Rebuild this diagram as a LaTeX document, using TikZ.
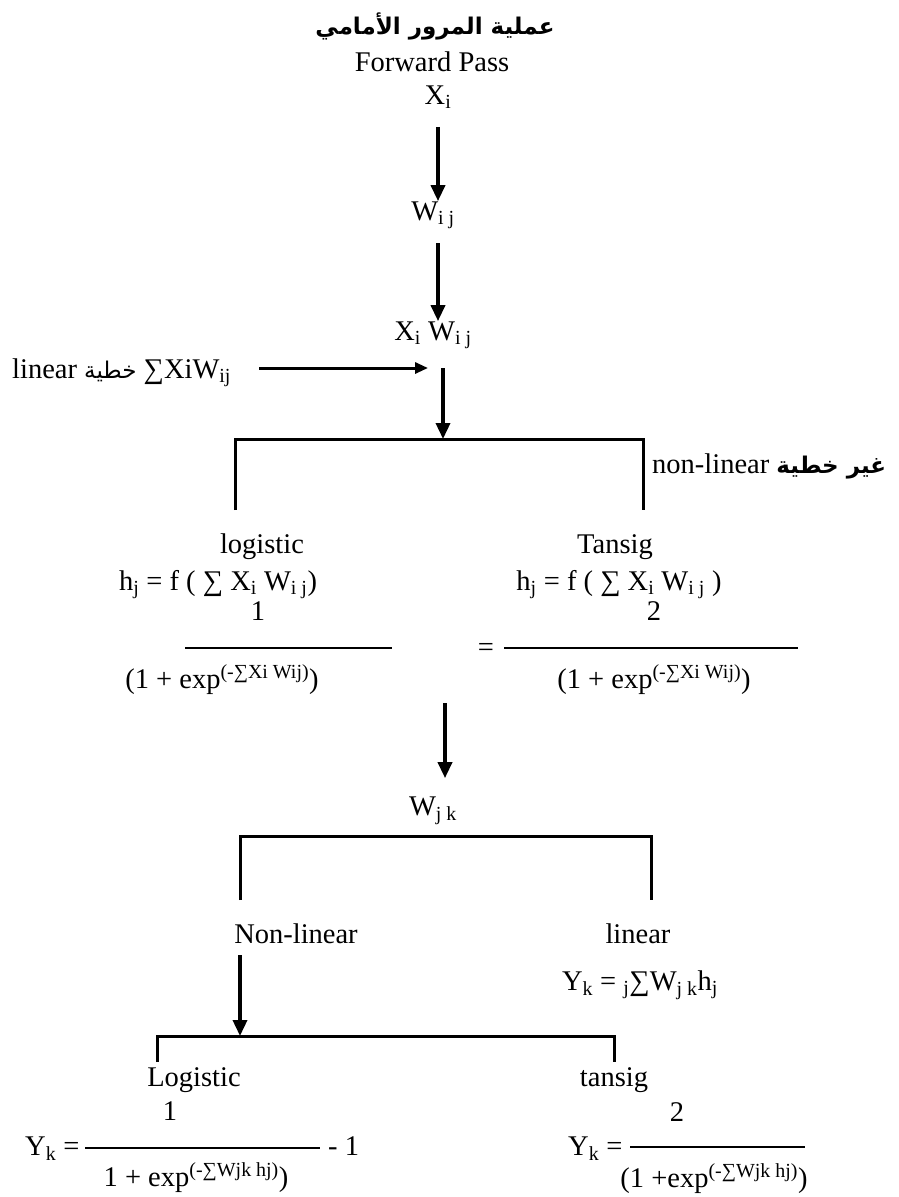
\documentclass[tikz,border=0pt]{standalone}
\usepackage{fontspec}
\setmainfont{Liberation Serif}
\newfontfamily\arabicfont[Script=Arabic]{DejaVu Sans}
\TeXXeTstate=1
\usetikzlibrary{arrows.meta,calc}

\begin{document}
\begin{tikzpicture}[x=1pt,y=-1pt,
 t/.style={inner sep=0pt,anchor=base,font=\fontsize{28.5}{34}\selectfont},
 ar/.style={inner sep=0pt,font=\fontsize{23}{28}\selectfont\arabicfont\bfseries},
 a/.style={-{Triangle[length=16pt,width=14pt]},line width=3.5pt},
 a2/.style={-{Triangle[length=13pt,width=11pt]},line width=3pt},
 br/.style={line width=3pt},
 fr/.style={line width=1.4pt}]
\useasboundingbox (0,0) rectangle (899,1197);
\node[ar] (title) at (435,26) {\beginR عملية المرور الأمامي\endR};
\node[t] (fwd) at (432,71) {Forward Pass};
\node[t] (xi) at (438,104) {X\textsubscript{i}};
\node[t] (wij) at (433,220) {W\textsubscript{i j}};
\node[t] (xw) at (433,340) {X\textsubscript{i} W\textsubscript{i j}};
\node[t,anchor=base west] (lin) at (12,378) {linear {\fontsize{23}{28}\selectfont\arabicfont\beginR خطية\endR} ∑XiW\textsubscript{ij}};
\node[t,anchor=base west] (nonlin) at (652,473) {non-linear {\fontsize{23}{28}\selectfont\arabicfont\bfseries\beginR غير خطية\endR}};
\coordinate (j1) at (443,368);
\coordinate (b1top) at (443,439);
\coordinate (b1l) at (235,510);
\coordinate (b1r) at (643,510);
\draw[a,shorten <=18pt] (xi.south) -- (xi.south |- wij.north);
\draw[a,shorten <=14pt] ([xshift=5pt]wij.south) -- ([xshift=5pt]wij.south |- xw.north);
\draw[a2,shorten <=28pt,shorten >=15pt] (lin.east |- j1) -- (j1);
\draw[a] (j1) -- (b1top);
\draw[br] (b1l) |- (b1top) -| (b1r);

\node[t] (logi) at (262,553) {logistic};
\node[t] (hl) at (218,590) {h\textsubscript{j} = f ( ∑ X\textsubscript{i} W\textsubscript{i j})};
\node[t] (nl1) at (258,620) {1};
\coordinate (f1a) at (185,648);
\coordinate (f1b) at (392,648);
\draw[fr] (f1a) -- (f1b);
\node[t] (dl) at (222,688) {(1 + exp\textsuperscript{(-∑Xi Wij)})};
\node[t] (tan) at (615,553) {Tansig};
\node[t] (hr) at (619,590) {h\textsubscript{j} = f ( ∑ X\textsubscript{i} W\textsubscript{i j} )};
\node[t] (nr1) at (654,620) {2};
\node[t] (eq) at (486,656) {=};
\coordinate (f2a) at (504,648);
\coordinate (f2b) at (798,648);
\draw[fr] (f2a) -- (f2b);
\node[t] (dr) at (654,688) {(1 + exp\textsuperscript{(-∑Xi Wij)})};

\coordinate (j2) at (445,703);
\node[t] (wjk) at (433,815) {W\textsubscript{j k}};
\draw[a,shorten >=18pt] (j2) -- (j2 |- wjk.north);
\coordinate (b2top) at (445,836);
\coordinate (b2l) at (240,900);
\coordinate (b2r) at (651,900);
\draw[br] (b2l) |- (b2top) -| (b2r);

\node[t] (nl) at (296,943) {Non-linear};
\node[t] (li) at (638,943) {linear};
\node[t] (yl) at (640,990) {Y\textsubscript{k} = \textsubscript{j}∑W\textsubscript{j k}h\textsubscript{j}};
\coordinate (b3top) at (240,1036);
\coordinate (b3l) at (157,1062);
\coordinate (b3r) at (614,1062);
\draw[a,shorten <=12pt] (b2l |- nl.south) -- (b3top);
\draw[br] (b3l) |- (b3top) -| (b3r);

\node[t] (lg) at (194,1086) {Logistic};
\node[t] (n3) at (170,1120) {1};
\node[t,anchor=base west] (yk1) at (25,1155) {Y\textsubscript{k} =};
\coordinate (f3a) at (85,1148);
\coordinate (f3b) at (320,1148);
\draw[fr] (f3a) -- (f3b);
\node[t,anchor=base west] (m1) at (328,1155) {- 1};
\node[t] (d3) at (196,1186) {1 + exp\textsuperscript{(-∑Wjk hj)})};
\node[t] (tg) at (614,1086) {tansig};
\node[t] (n4) at (677,1121) {2};
\node[t,anchor=base west] (yk2) at (568,1155) {Y\textsubscript{k} =};
\coordinate (f4a) at (630,1147);
\coordinate (f4b) at (805,1147);
\draw[fr] (f4a) -- (f4b);
\node[t] (d4) at (714,1187) {(1 +exp\textsuperscript{(-∑Wjk hj)})};
\end{tikzpicture}
\end{document}
